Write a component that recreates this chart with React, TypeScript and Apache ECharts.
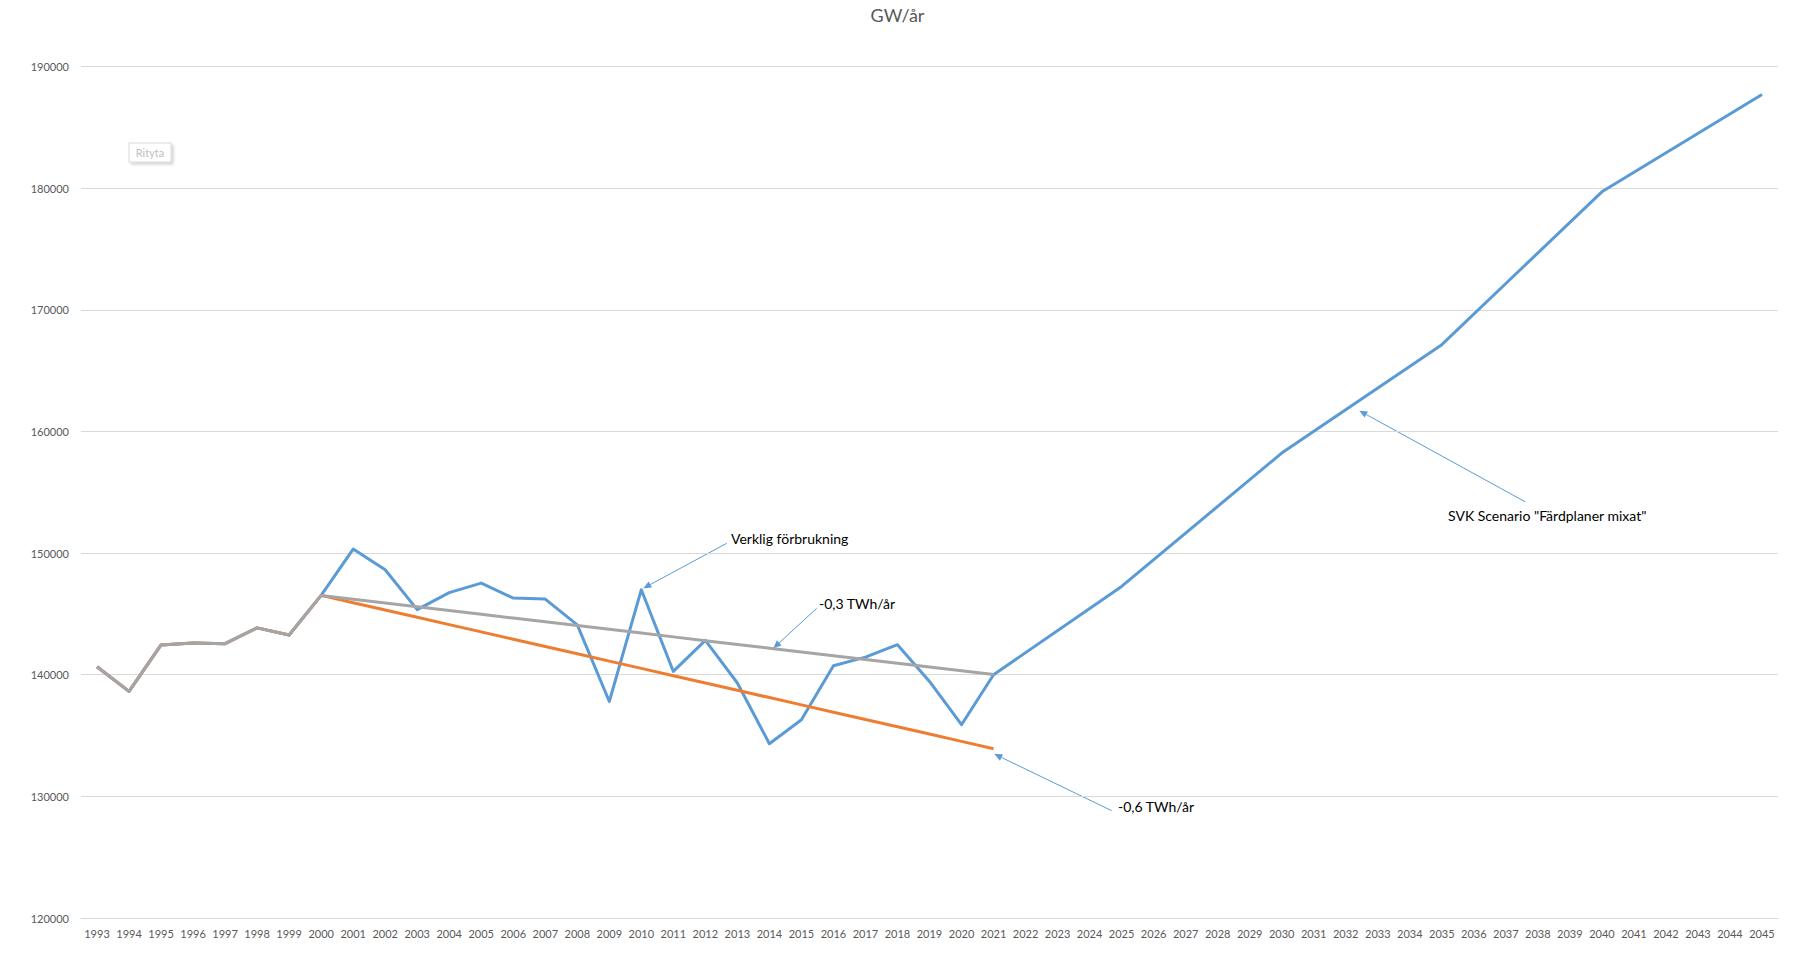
import React, { useEffect, useRef } from "react";
import * as echarts from "echarts";

const years = [
  "1993", "1994", "1995", "1996", "1997", "1998", "1999", "2000", "2001", "2002",
  "2003", "2004", "2005", "2006", "2007", "2008", "2009", "2010", "2011", "2012",
  "2013", "2014", "2015", "2016", "2017", "2018", "2019", "2020", "2021", "2022",
  "2023", "2024", "2025", "2026", "2027", "2028", "2029", "2030", "2031", "2032",
  "2033", "2034", "2035", "2036", "2037", "2038", "2039", "2040", "2041", "2042",
  "2043", "2044", "2045",
];

// Verklig förbrukning 1993–2021
const actualYears = years.slice(0, 29);
const actualValues = [
  140650, 138630, 142450, 142600, 142550, 143850, 143270, 146520, 150330, 148630,
  145350, 146750, 147530, 146300, 146220, 144100, 137800, 146990, 140270, 142820,
  139320, 134330, 136300, 140740, 141450, 142470, 139450, 135890, 140000,
];

// SVK Scenario "Färdplaner mixat"
const scenarioYears = ["2025", "2030", "2035", "2040", "2045"];
const scenarioValues = [147260, 158220, 167130, 179700, 187700];

// Shared history shown under the trend lines 1993–1999
const historyYears = years.slice(0, 7);
const historyValues = [140650, 138630, 142450, 142600, 142550, 143850, 143270];

// Trend lines 2000–2021
const trendYears = years.slice(7, 29);
const trend03Values = [
  146520, 146210, 145900, 145590, 145280, 144970, 144660, 144350, 144040, 143730,
  143420, 143110, 142800, 142490, 142180, 141870, 141560, 141250, 140940, 140630,
  140320, 140010,
];
const trend06Values = [
  146520, 145920, 145320, 144720, 144120, 143520, 142920, 142320, 141720, 141120,
  140520, 139920, 139320, 138720, 138120, 137520, 136920, 136320, 135720, 135120,
  134520, 133920,
];

const yTicks = { min: 120000, max: 190000, interval: 10000 };

const BLUE = "#5B9BD5";
const ORANGE = "#ED7D31";
const GRAY = "#A5A5A5";
const FONT = "Lato, 'Open Sans', sans-serif";

function buildSeriesData(keys: string[], vals: number[]) {
  const map: Record<string, number> = {};
  keys.forEach((k, i) => (map[k] = vals[i]));
  return years.map((y) => (y in map ? map[y] : null));
}

function arrow(x1: number, y1: number, x2: number, y2: number) {
  const dx = x2 - x1;
  const dy = y2 - y1;
  const len = Math.sqrt(dx * dx + dy * dy);
  const ux = dx / len;
  const uy = dy / len;
  const hl = 8;
  const hw = 3.5;
  const bx = x2 - ux * hl;
  const by = y2 - uy * hl;
  return [
    {
      type: "line",
      shape: { x1, y1, x2: bx, y2: by },
      style: { stroke: BLUE, lineWidth: 1 },
      silent: true,
    },
    {
      type: "polygon",
      shape: {
        points: [
          [x2, y2],
          [bx - uy * hw, by + ux * hw],
          [bx + uy * hw, by - ux * hw],
        ],
      },
      style: { fill: BLUE },
      silent: true,
    },
  ];
}

function label(x: number, y: number, text: string) {
  return {
    type: "text",
    x,
    y,
    style: {
      text,
      fill: "#000000",
      font: `14px ${FONT}`,
      textVerticalAlign: "middle",
    },
    silent: true,
  };
}

export default function App() {
  const ref = useRef<HTMLDivElement>(null);

  useEffect(() => {
    document.body.style.margin = "0";
    if (!ref.current) return;
    const chart = echarts.init(ref.current, null, { renderer: "svg" });
    chart.setOption({
      animation: false,
      backgroundColor: "#ffffff",
      title: {
        text: "GW/år",
        left: "center",
        top: 1,
        textStyle: { fontFamily: FONT, fontSize: 18, fontWeight: "normal", color: "#595959" },
      },
      grid: { left: 81, right: 17, top: 66.5, bottom: 40 },
      xAxis: {
        type: "category",
        data: years,
        boundaryGap: true,
        axisLine: { show: true, lineStyle: { color: "#D9D9D9" } },
        axisTick: { show: false },
        axisLabel: { interval: 0, color: "#595959", fontFamily: FONT, fontSize: 11, margin: 10 },
      },
      yAxis: {
        type: "value",
        min: yTicks.min,
        max: yTicks.max,
        interval: yTicks.interval,
        axisLine: { show: false },
        axisTick: { show: false },
        splitLine: { lineStyle: { color: "#D9D9D9", width: 1 } },
        axisLabel: {
          color: "#595959",
          fontFamily: FONT,
          fontSize: 11,
          margin: 12,
          formatter: (v: number) => String(v),
        },
      },
      series: [
        {
          name: "Verklig förbrukning",
          type: "line",
          data: years.map((y) => {
            const i = actualYears.indexOf(y);
            if (i >= 0) return actualValues[i];
            const j = scenarioYears.indexOf(y);
            return j >= 0 ? scenarioValues[j] : null;
          }),
          connectNulls: true,
          showSymbol: false,
          lineStyle: { color: BLUE, width: 3, join: "round" },
          itemStyle: { color: BLUE },
          z: 2,
        },
        {
          name: "-0,6 TWh/år",
          type: "line",
          data: buildSeriesData([...historyYears, ...trendYears], [...historyValues, ...trend06Values]),
          showSymbol: false,
          lineStyle: { color: ORANGE, width: 3, join: "round" },
          itemStyle: { color: ORANGE },
          z: 3,
        },
        {
          name: "-0,3 TWh/år",
          type: "line",
          data: buildSeriesData([...historyYears, ...trendYears], [...historyValues, ...trend03Values]),
          showSymbol: false,
          lineStyle: { color: GRAY, width: 3, join: "round" },
          itemStyle: { color: GRAY },
          z: 4,
        },
      ],
      graphic: [
        {
          type: "rect",
          shape: { x: 129, y: 143, width: 42, height: 19 },
          style: {
            fill: "#ffffff",
            stroke: "#D9D9D9",
            lineWidth: 1,
            shadowBlur: 3,
            shadowOffsetX: 2,
            shadowOffsetY: 2,
            shadowColor: "rgba(0,0,0,0.18)",
          },
          silent: true,
        },
        {
          type: "text",
          x: 150,
          y: 152.5,
          style: {
            text: "Rityta",
            fill: "#BFBFBF",
            font: `11px ${FONT}`,
            textAlign: "center",
            textVerticalAlign: "middle",
          },
          silent: true,
        },
        ...arrow(726.7, 543.3, 643.3, 588.3),
        label(731, 538.5, "Verklig förbrukning"),
        ...arrow(816.7, 608.3, 773.3, 648.3),
        label(819, 603.5, "-0,3 TWh/år"),
        ...arrow(1111.7, 810.7, 994.3, 754),
        label(1118, 806.5, "-0,6 TWh/år"),
        ...arrow(1525, 501.7, 1359.3, 410.7),
        label(1448, 515, "SVK Scenario \"Färdplaner mixat\""),
      ],
    });
    return () => chart.dispose();
  }, []);

  return (
    <div
      ref={ref}
      style={{ position: "absolute", left: 0, top: 0, width: 1795, height: 958 }}
    />
  );
}
